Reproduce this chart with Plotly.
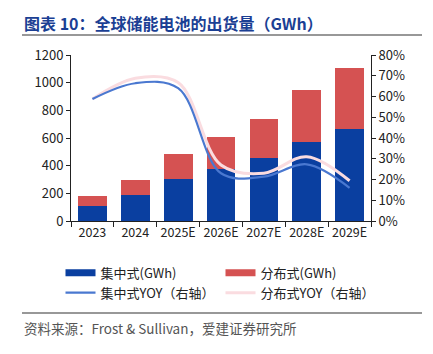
import plotly.graph_objects as go

categories = ["2023", "2024", "2025E", "2026E", "2027E", "2028E", "2029E"]
central_gwh = [111, 186, 304, 374, 453, 571, 663]
distributed_gwh = [67, 108, 178, 231, 282, 374, 441]
central_yoy = [58.8, 66.4, 64.0, 23.0, 21.4, 27.3, 16.0]
distributed_yoy = [58.8, 68.8, 66.7, 27.0, 23.0, 31.0, 19.4]

BLUE = "#0A3FA0"
RED = "#D55252"
LBLUE = "#4A78D0"
PINK = "#FADCE0"
FONT = "Noto Sans CJK SC"

fig = go.Figure()
fig.add_trace(go.Bar(x=categories, y=central_gwh, marker=dict(color=BLUE, line=dict(width=0)),
                     showlegend=False, name="集中式(GWh)"))
fig.add_trace(go.Bar(x=categories, y=distributed_gwh, marker=dict(color=RED, line=dict(width=0)),
                     showlegend=False, name="分布式(GWh)"))
fig.add_trace(go.Scatter(x=categories, y=distributed_yoy, yaxis="y2", mode="lines",
                         line=dict(color=PINK, width=3, shape="spline", smoothing=1.0),
                         showlegend=False))
fig.add_trace(go.Scatter(x=categories, y=central_yoy, yaxis="y2", mode="lines",
                         line=dict(color=LBLUE, width=2.2, shape="spline", smoothing=1.0),
                         showlegend=False))

# legend entries
fig.add_trace(go.Scatter(x=[None], y=[None], mode="lines", name="集中式(GWh)",
                         line=dict(color=BLUE, width=7)))
fig.add_trace(go.Scatter(x=[None], y=[None], mode="lines", name="分布式(GWh)",
                         line=dict(color=RED, width=7)))
fig.add_trace(go.Scatter(x=[None], y=[None], mode="lines", name="集中式YOY（右轴）",
                         line=dict(color=LBLUE, width=2.2)))
fig.add_trace(go.Scatter(x=[None], y=[None], mode="lines", name="分布式YOY（右轴）",
                         line=dict(color=PINK, width=3)))

fig.update_layout(
    width=433, height=354,
    margin=dict(l=71, r=62, t=55, b=133),
    paper_bgcolor="white", plot_bgcolor="white",
    barmode="stack", bargap=0.33,
    font=dict(family=FONT, size=13, color="#222"),
    xaxis=dict(type="category", range=[-0.5, 6.5], showline=True, linecolor="#222", linewidth=1,
               ticks="outside", tickson="boundaries", ticklen=5, tickcolor="#222",
               showgrid=False, tickangle=0, tickfont=dict(size=12.5, color="#222")),
    yaxis=dict(range=[0, 1200], dtick=200, showline=True, linecolor="#222", linewidth=1,
               ticks="outside", ticklen=4, tickcolor="#222", showgrid=False, zeroline=False,
               tickfont=dict(size=13, color="#222")),
    yaxis2=dict(range=[0, 80], dtick=10, overlaying="y", side="right", showline=True,
                linecolor="#222", linewidth=1, ticks="outside", ticklen=4, tickcolor="#222",
                showgrid=False, zeroline=False, ticksuffix="%",
                tickfont=dict(size=13, color="#222")),
    legend=dict(orientation="h", x=-0.035, xanchor="left", y=-0.222, yanchor="top",
                entrywidth=115, entrywidthmode="pixels", font=dict(size=13, color="#222"),
                itemwidth=30, traceorder="normal", bgcolor="rgba(0,0,0,0)"),
    shapes=[
        dict(type="line", xref="paper", yref="paper", x0=-49/300, x1=351/300,
             y0=(354-133-35)/166, y1=(354-133-35)/166, line=dict(color="#333", width=1.2)),
        dict(type="line", xref="paper", yref="paper", x0=-49/300, x1=351/300,
             y0=(354-133-313)/166, y1=(354-133-313)/166, line=dict(color="#333", width=1.2)),
    ],
    annotations=[
        dict(text="<b>图表 10：全球储能电池的出货量（GWh）</b>", xref="paper", yref="paper",
             x=-49/300, y=(354-133-22.5)/166, xanchor="left", yanchor="middle", showarrow=False,
             font=dict(size=16, color="#1B3F94", family=FONT)),
        dict(text="资料来源：Frost & Sullivan，爱建证券研究所", xref="paper", yref="paper",
             x=-49/300, y=(354-133-327.5)/166, xanchor="left", yanchor="middle", showarrow=False,
             font=dict(size=13.5, color="#555", family=FONT)),
    ],
)

fig.write_html("out.html")
